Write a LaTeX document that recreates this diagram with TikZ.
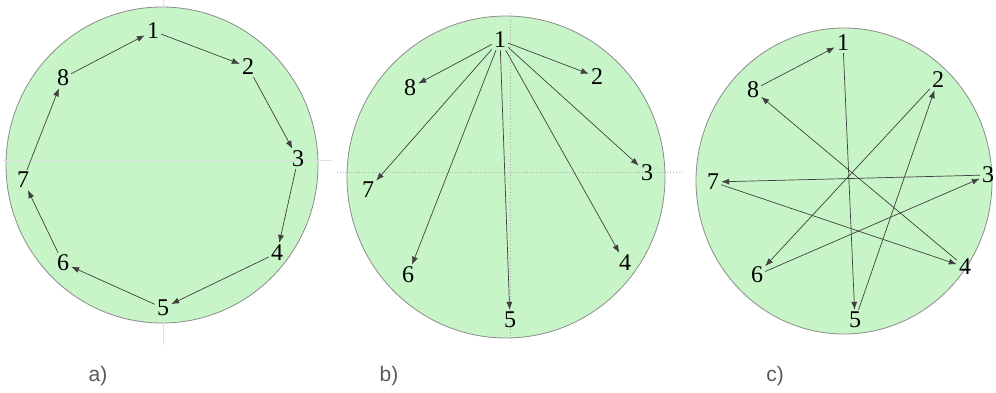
\documentclass[tikz,border=0pt]{standalone}
\usepackage{fontspec}
\setmainfont{Liberation Serif}
\newfontfamily\capfont{Liberation Sans}
\usetikzlibrary{arrows.meta}
\definecolor{discgreen}{RGB}{200,245,200}

\begin{document}
\begin{tikzpicture}[x=1pt,y=-1pt,
  every node/.style={font=\fontsize{24}{24}\selectfont, inner sep=2pt},
  disc/.style={fill=discgreen, draw=gray!90, line width=0.8pt},
  axis/.style={draw=gray!25, line width=0.8pt},
  hop/.style={draw=black!75, line width=0.7pt, -{Latex[length=8pt,width=6pt]}},
  caption/.style={font=\capfont\fontsize{21}{21}\selectfont, text=black!65}]
  \useasboundingbox (0,0) rectangle (996,392);

  % a) neighbour tour
  \draw[disc] (162,165) ellipse [x radius=156pt, y radius=158pt];
  \draw[axis] (163,0) -- (163,345);
  \draw[axis] (3,160) -- (332,160);
  \node (a1) at (153,31) {1};
  \node (a2) at (248,67) {2};
  \node (a3) at (298,159) {3};
  \node (a4) at (277,253) {4};
  \node (a5) at (163,308) {5};
  \node (a6) at (63,263) {6};
  \node (a7) at (23,180) {7};
  \node (a8) at (63,78) {8};
  \foreach \s/\t in {1/2,2/3,3/4,4/5,5/6,6/7,7/8,8/1}
    \draw[hop] (a\s) -- (a\t);
  \node[caption] (capa) at (98,376) {a)};

  % b) star from 1
  \draw[disc] (506,177) ellipse [x radius=159pt, y radius=161pt];
  \draw[axis, draw=gray!60, dotted] (510,13) -- (510,342);
  \draw[axis, draw=gray!60, dotted] (337,172) -- (683,172);
  \node (b1) at (500,40) {1};
  \node (b2) at (597,77) {2};
  \node (b3) at (647,173) {3};
  \node (b4) at (625,263) {4};
  \node (b5) at (510,320) {5};
  \node (b6) at (408,275) {6};
  \node (b7) at (368,190) {7};
  \node (b8) at (410,88) {8};
  \foreach \t in {2,...,8}
    \draw[hop] (b1) -- (b\t);
  \node[caption] (capb) at (389,376) {b)};

  % c) skip tour
  \draw[disc] (844,181) ellipse [x radius=148pt, y radius=153pt];
  \node (c1) at (843,43) {1};
  \node (c2) at (938,80) {2};
  \node (c3) at (988,175) {3};
  \node (c4) at (965,267) {4};
  \node (c5) at (855,320) {5};
  \node (c6) at (757,275) {6};
  \node (c7) at (713,182) {7};
  \node (c8) at (753,90) {8};
  \foreach \s/\t in {1/5,5/2,2/6,6/3,3/7,7/4,4/8,8/1}
    \draw[hop] (c\s) -- (c\t);
  \node[caption] (capc) at (775,376) {c)};
\end{tikzpicture}
\end{document}
